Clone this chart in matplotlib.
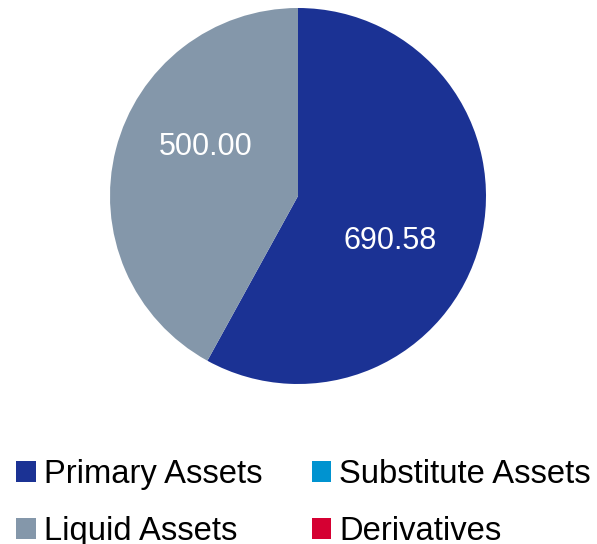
import numpy as np
import matplotlib
matplotlib.use('Agg')
import matplotlib.pyplot as plt
from matplotlib.patches import Patch

plt.rcParams['font.family'] = ['Liberation Sans', 'DejaVu Sans']

# data
labels = ['Primary Assets', 'Liquid Assets']
values = [690.58, 500.00]
colors = ['#1b3294', '#8497aa']

legend_labels = ['Primary Assets', 'Liquid Assets', 'Substitute Assets', 'Derivatives']
legend_colors = ['#1b3294', '#8497aa', '#0093d0', '#d50032']

fig = plt.figure(figsize=(5.97, 5.44), dpi=100)
ax = fig.add_axes([(298 - 188) / 597, 1 - (196 + 188) / 544, 376 / 597, 376 / 544])

wedges, _ = ax.pie(values, colors=colors, startangle=90, counterclock=False,
                   radius=1.0, wedgeprops=dict(linewidth=0))
ax.set_xlim(-1, 1)
ax.set_ylim(-1, 1)
ax.set_aspect('equal')

# value labels, placed a bit before the wedge middle
for w, v in zip(wedges, values):
    mid = np.deg2rad((w.theta1 + w.theta2) / 2 - 12)
    ax.text(0.55 * np.cos(mid), 0.56 * np.sin(mid) + 0.01, f'{v:.2f}',
            ha='center', va='center', color='white', fontsize=22)

handles = [Patch(facecolor=c, edgecolor='none') for c in legend_colors]
fig.legend(handles, legend_labels, ncol=2, loc='upper left',
           bbox_to_anchor=(16 / 597, 1 - 459 / 544), frameon=False, fontsize=23.6,
           handlelength=0.6, handleheight=0.6, handletextpad=0.25,
           columnspacing=1.5, labelspacing=0.8, borderpad=0, borderaxespad=0)

fig.savefig('out.png', dpi=100)
